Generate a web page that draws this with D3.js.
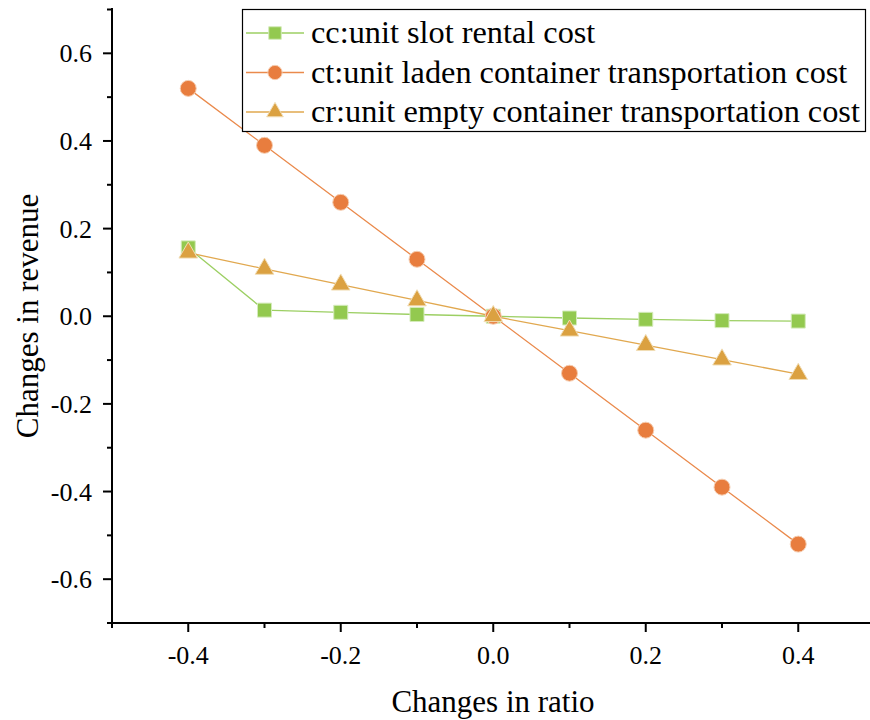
<!DOCTYPE html>
<html><head><meta charset="utf-8">
<script src="https://cdn.jsdelivr.net/npm/d3@7"></script>
<style>body{margin:0;background:#fff}svg{display:block}</style>
</head><body>
<svg id="c" width="870" height="720"></svg>
<script>
const ratios = [-0.4,-0.3,-0.2,-0.1,0,0.1,0.2,0.3,0.4];
const ccValues = [0.156,0.014,0.009,0.004,0,-0.004,-0.007,-0.010,-0.011];
const ctValues = [0.52,0.39,0.26,0.13,0,-0.13,-0.26,-0.39,-0.52];
const crValues = [0.145,0.108,0.072,0.036,0,-0.033,-0.066,-0.099,-0.132];
const seriesNames = ["cc:unit slot rental cost","ct:unit laden container transportation cost","cr:unit empty container transportation cost"];
const xTicks = [-0.4,-0.2,0.0,0.2,0.4];
const yTicks = [-0.6,-0.4,-0.2,0.0,0.2,0.4,0.6];

const series = [
  {name:seriesNames[0], values:ccValues, shape:d3.symbolSquare, size:196, fill:"#93C94F", line:"#9CCF63", stroke:"#D4EBBB"},
  {name:seriesNames[1], values:ctValues, shape:d3.symbolCircle, size:201, fill:"#E87D3E", line:"#EA8A4C", stroke:"#F6CDB0"},
  {name:seriesNames[2], values:crValues, shape:d3.symbolTriangle, size:150, fill:"#DBA141", line:"#E1A84F", stroke:"#F1DDB5"}
];

const svg = d3.select("#c");
const font = '"Liberation Serif", "Times New Roman", serif';
const x = d3.scaleLinear().domain([-0.5,0.5]).range([112,874.5]);
const y = d3.scaleLinear().domain([-0.7,0.7]).range([623,9.5]);
const fmt = d => d3.format(".1f")(d).replace("\u2212","-");

// axes
const xAxis = svg.append("g").attr("transform","translate(0,623)");
xAxis.append("line").attr("x1",111).attr("x2",870).attr("stroke","#000").attr("stroke-width",2);
const xMinor = d3.range(-5,6).map(d=>d/10);
xAxis.selectAll(".mt").data(xMinor).join("line")
  .attr("x1",d=>x(d)).attr("x2",d=>x(d)).attr("y1",0)
  .attr("y2",d=>Math.abs(Math.round(d*10))%2===0 ? 9 : 5)
  .attr("stroke","#000").attr("stroke-width",2);
xAxis.selectAll("text").data(xTicks).join("text")
  .attr("x",d=>x(d)).attr("y",41).attr("text-anchor","middle")
  .style("font-family",font).style("font-size","26px").text(fmt);

const yAxis = svg.append("g").attr("transform","translate(112,0)");
yAxis.append("line").attr("y1",8).attr("y2",624).attr("stroke","#000").attr("stroke-width",2);
const yMinor = d3.range(-7,8).map(d=>d/10);
yAxis.selectAll(".mt").data(yMinor).join("line")
  .attr("y1",d=>y(d)).attr("y2",d=>y(d)).attr("x1",0)
  .attr("x2",d=>Math.abs(Math.round(d*10))%2===0 ? -9 : -5)
  .attr("stroke","#000").attr("stroke-width",2);
yAxis.selectAll("text").data(yTicks).join("text")
  .attr("x",-20).attr("y",d=>y(d)+9).attr("text-anchor","end")
  .style("font-family",font).style("font-size","26px").text(fmt);

svg.append("text").attr("x",493).attr("y",712).attr("text-anchor","middle")
  .style("font-family",font).style("font-size","31px").text("Changes in ratio");
svg.append("text").attr("transform","translate(38,316) rotate(-90)").attr("text-anchor","middle")
  .style("font-family",font).style("font-size","31px").text("Changes in revenue");

// lines
const line = d3.line().x((d,i)=>x(ratios[i])).y(d=>y(d));
series.forEach(s=>{
  svg.append("path").attr("d",line(s.values)).attr("fill","none").attr("stroke",s.line).attr("stroke-width",1.3);
});
series.forEach(s=>{
  const sym = d3.symbol().type(s.shape).size(s.size);
  svg.append("g").selectAll("path").data(s.values).join("path")
    .attr("d",sym).attr("transform",(d,i)=>`translate(${x(ratios[i])},${y(d)})`)
    .attr("fill",s.fill).attr("stroke",s.stroke).attr("stroke-width",1);
});

// legend
const lg = svg.append("g");
lg.append("rect").attr("x",242.5).attr("y",9.5).attr("width",623).attr("height",122)
  .attr("fill","#fff").attr("stroke","#000").attr("stroke-width",1.2);
series.forEach((s,i)=>{
  const cy = 33 + i*39.5;
  lg.append("line").attr("x1",246).attr("x2",304).attr("y1",cy).attr("y2",cy).attr("stroke",s.line).attr("stroke-width",1.3);
  lg.append("path").attr("d",d3.symbol().type(s.shape).size(s.size*0.8)()).attr("transform",`translate(275,${cy})`)
    .attr("fill",s.fill).attr("stroke",s.stroke);
  lg.append("text").attr("x",311).attr("y",cy+10).style("font-family",font).style("font-size","32.3px").text(s.name);
});
</script>
</body></html>
